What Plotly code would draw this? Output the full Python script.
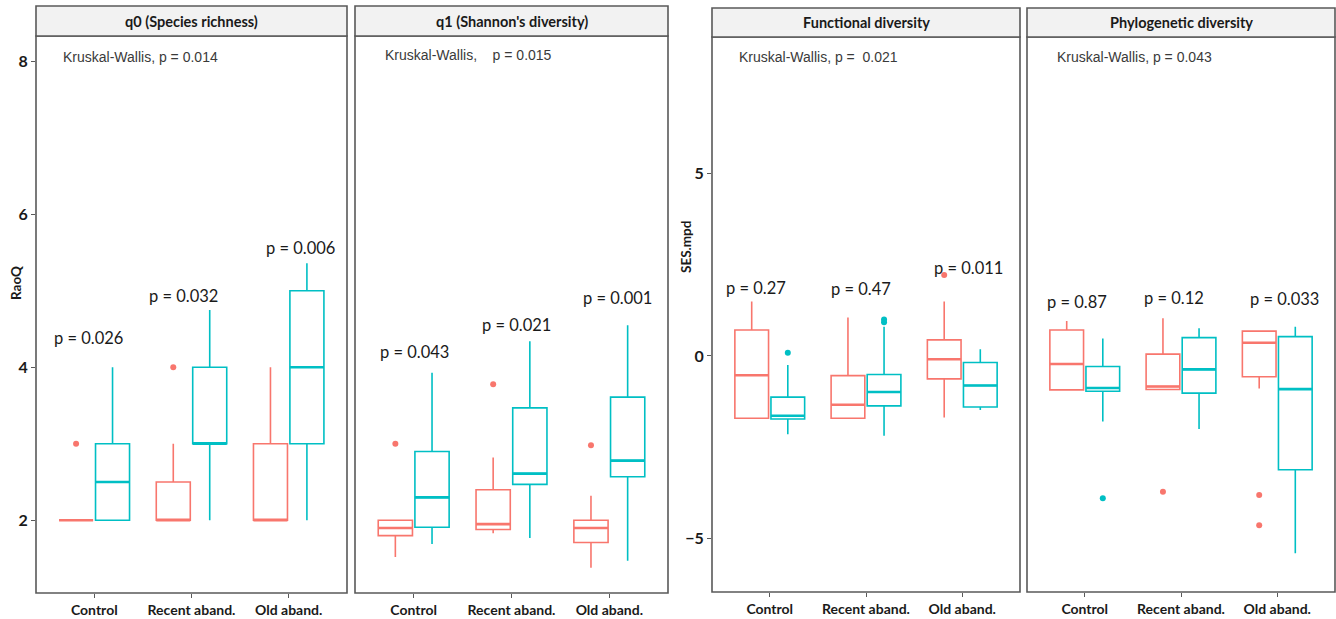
import plotly.graph_objects as go

# ---------------- data ----------------
categories = ["Control", "Recent aband.", "Old aband."]
panel_titles = ["q0 (Species richness)", "q1 (Shannon's diversity)",
                "Functional diversity", "Phylogenetic diversity"]
kw_labels = ["Kruskal-Wallis, p = 0.014", "Kruskal-Wallis,    p = 0.015",
             "Kruskal-Wallis, p =  0.021", "Kruskal-Wallis, p = 0.043"]
y_titles = ["RaoQ", "SES.mpd"]
yticks_left = [2, 4, 6, 8]
yticks_right = [-5, 0, 5]

# (lower whisker, q1, median, q3, upper whisker) per category
q0_red = [(2, 2, 2, 2, 2), (2, 2, 2, 2.5, 3), (2, 2, 2, 3, 4)]
q0_teal = [(2, 2, 2.5, 3, 4), (2, 3, 3, 4, 4.75), (2, 3, 4, 5, 5.36)]
q0_red_out = [[3], [4], []]
q0_teal_out = [[], [], []]

q1_red = [(1.52, 1.80, 1.90, 2.00, 2.00), (1.83, 1.88, 1.95, 2.40, 2.82), (1.38, 1.71, 1.90, 2.00, 2.32)]
q1_teal = [(1.69, 1.91, 2.30, 2.90, 3.93), (1.77, 2.47, 2.61, 3.47, 4.34), (1.47, 2.57, 2.78, 3.61, 4.55)]
q1_red_out = [[3.0], [3.78], [2.98]]
q1_teal_out = [[], [], []]

fd_red = [(-1.71, -1.71, -0.53, 0.71, 1.49), (-1.71, -1.71, -1.34, -0.54, 1.05), (-1.69, -0.63, -0.09, 0.44, 1.49)]
fd_teal = [(-2.15, -1.73, -1.64, -1.13, -0.25), (-2.19, -1.37, -0.99, -0.51, 0.80), (-1.48, -1.40, -0.81, -0.18, 0.18)]
fd_red_out = [[], [], [2.22]]
fd_teal_out = [[0.09], [1.0, 0.92], []]

pd_red = [(-0.93, -0.93, -0.22, 0.71, 0.96), (-0.92, -0.92, -0.84, 0.05, 1.03), (-0.89, -0.57, 0.36, 0.68, 0.70)]
pd_teal = [(-1.80, -0.97, -0.88, -0.29, 0.48), (-2.00, -1.02, -0.37, 0.50, 0.76), (-5.41, -3.12, -0.91, 0.53, 0.80)]
pd_red_out = [[], [-3.72], [-3.81, -4.64]]
pd_teal_out = [[-3.90], [], []]

pair_p_labels = [["p = 0.026", "p = 0.032", "p = 0.006"],
                 ["p = 0.043", "p = 0.021", "p = 0.001"],
                 ["p = 0.27", "p = 0.47", "p = 0.011"],
                 ["p = 0.87", "p = 0.12", "p = 0.033"]]

# ---------------- layout constants ----------------
W, H = 1336, 619
RED, TEAL = "#F8766D", "#00BFC4"
BORDER = "#595959"
DODGE = 0.1875
BOX_W = 0.35

panels_px = [(36, 347), (355, 668), (712, 1020), (1027, 1335)]
strip_px = [(6, 36, 593), (6, 36, 593), (8, 37, 592), (8, 37, 592)]  # strip top, plot top, plot bottom
y_ranges = [[1.05, 8.33], [1.05, 8.33], [-6.47, 8.74], [-6.47, 8.74]]

# label placements (category units, data y)
p_label_pos = [[(0.94, 4.38), (1.92, 4.93), (3.12, 5.56)],
               [(1.01, 4.20), (2.05, 4.55), (3.08, 4.90)],
               [(0.86, 1.86), (1.95, 1.84), (3.07, 2.41)],
               [(0.92, 1.48), (1.93, 1.59), (3.08, 1.56)]]
kw_pos = [(0.66, 8.05), (0.69, 8.08), (0.66, 8.19), (0.69, 8.19)]

series = [
    (q0_red, q0_teal, q0_red_out, q0_teal_out),
    (q1_red, q1_teal, q1_red_out, q1_teal_out),
    (fd_red, fd_teal, fd_red_out, fd_teal_out),
    (pd_red, pd_teal, pd_red_out, pd_teal_out),
]

fig = go.Figure()
shapes, annotations = [], []
cat_pos = [i + 1 for i in range(len(categories))]

for p, (red, teal, red_out, teal_out) in enumerate(series):
    ax = "" if p == 0 else str(p + 1)
    xref, yref = "x" + ax, "y" + ax
    for stats, outs, color, off in [(red, red_out, RED, -DODGE), (teal, teal_out, TEAL, DODGE)]:
        xs = [c + off for c in cat_pos]
        fig.add_trace(go.Box(
            x=xs,
            lowerfence=[s[0] for s in stats], q1=[s[1] for s in stats],
            median=[s[2] for s in stats], q3=[s[3] for s in stats],
            upperfence=[s[4] for s in stats],
            width=BOX_W, whiskerwidth=0, line=dict(color=color, width=1.6),
            fillcolor="rgba(255,255,255,0)", boxpoints=False,
            xaxis=xref, yaxis=yref, showlegend=False, hoverinfo="skip"))
        # thicker median (ggplot fatten)
        mx, my = [], []
        for x, s in zip(xs, stats):
            mx += [x - BOX_W / 2, x + BOX_W / 2, None]
            my += [s[2], s[2], None]
        fig.add_trace(go.Scatter(x=mx, y=my, mode="lines", line=dict(color=color, width=2.6),
                                 xaxis=xref, yaxis=yref, showlegend=False, hoverinfo="skip"))
        ox, oy = [], []
        for x, o in zip(xs, outs):
            ox += [x] * len(o)
            oy += o
        if ox:
            fig.add_trace(go.Scatter(x=ox, y=oy, mode="markers", marker=dict(color=color, size=6),
                                     xaxis=xref, yaxis=yref, showlegend=False, hoverinfo="skip"))

    x0, x1 = panels_px[p]
    st, pt, pb = strip_px[p]
    dom_x = [x0 / W, x1 / W]
    dom_y = [1 - pb / H, 1 - pt / H]
    left_axis = p in (0, 2)
    fig.layout["xaxis" + ax] = dict(
        domain=dom_x, range=[0.4, len(categories) + 0.6], tickvals=cat_pos, ticktext=categories,
        ticks="outside", ticklen=4, tickcolor=BORDER, showgrid=False, zeroline=False, showline=False,
        tickfont=dict(family="Lato", size=14, color="#1a1a1a", weight="bold"), anchor=yref, fixedrange=True)
    fig.layout["yaxis" + ax] = dict(
        domain=dom_y, range=y_ranges[p], showgrid=False, zeroline=False, showline=False,
        tickvals=(yticks_left if p < 2 else yticks_right) if left_axis else [],
        ticks="outside" if left_axis else "", ticklen=4, tickcolor=BORDER,
        showticklabels=left_axis,
        tickfont=dict(family="Lato", size=16, color="#1a1a1a", weight="bold"), anchor=xref, fixedrange=True)

    # panel border and strip
    shapes.append(dict(type="rect", xref="paper", yref="paper", x0=x0 / W, x1=x1 / W,
                       y0=1 - pb / H, y1=1 - pt / H, line=dict(color=BORDER, width=1.6), fillcolor="rgba(0,0,0,0)"))
    shapes.append(dict(type="rect", xref="paper", yref="paper", x0=x0 / W, x1=x1 / W,
                       y0=1 - pt / H, y1=1 - st / H, line=dict(color=BORDER, width=1.6), fillcolor="#F2F2F2"))
    annotations.append(dict(text="<b>" + panel_titles[p] + "</b>", xref="paper", yref="paper",
                            x=(x0 + x1) / 2 / W, y=1 - (st + pt) / 2 / H, xanchor="center", yanchor="middle",
                            showarrow=False, font=dict(family="Lato", size=14.5, color="#1a1a1a")))
    kx, ky = kw_pos[p]
    annotations.append(dict(text=kw_labels[p], xref=xref, yref=yref, x=kx, y=ky, xanchor="left",
                            yanchor="middle", showarrow=False,
                            font=dict(family="Liberation Sans", size=14, color="#3a3a3a")))
    for lab, (lx, ly) in zip(pair_p_labels[p], p_label_pos[p]):
        annotations.append(dict(text=lab, xref=xref, yref=yref, x=lx, y=ly, showarrow=False,
                                xanchor="center", yanchor="middle",
                                font=dict(family="Lato", size=16.5, color="#1a1a1a")))

annotations.append(dict(text="<b>" + y_titles[0] + "</b>", xref="paper", yref="paper", x=16 / W, y=1 - 283 / H,
                        xanchor="center", yanchor="middle",
                        textangle=-90, showarrow=False, font=dict(family="Lato", size=13.5, color="#1a1a1a")))
annotations.append(dict(text="<b>" + y_titles[1] + "</b>", xref="paper", yref="paper", x=686 / W, y=1 - 247 / H,
                        xanchor="center", yanchor="middle",
                        textangle=-90, showarrow=False, font=dict(family="Lato", size=13.5, color="#1a1a1a")))

fig.update_layout(width=W, height=H, margin=dict(l=0, r=0, t=0, b=0, pad=0),
                  paper_bgcolor="white", plot_bgcolor="white", shapes=shapes, annotations=annotations,
                  showlegend=False)

fig.write_html("out.html", config={"displayModeBar": False},
               post_script="document.body.style.margin='0';document.body.style.overflow='hidden';")
